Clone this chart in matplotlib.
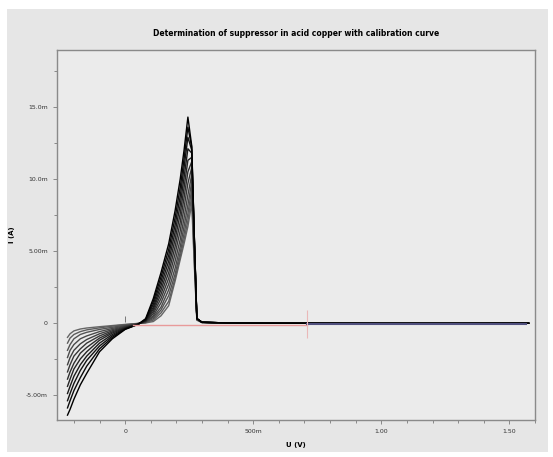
import matplotlib.pyplot as plt
from matplotlib.patches import Rectangle
from matplotlib.ticker import MultipleLocator

# potentials (V) for the cathodic part of each sweep
e_cat = [-0.225, -0.215, -0.2, -0.175, -0.15, -0.1, -0.05, 0.0, 0.05]
# potentials (V) for the stripping peak part
e_an = [0.08, 0.11, 0.14, 0.17, 0.195, 0.215, 0.23, 0.245, 0.26, 0.27, 0.28, 0.3]
# potentials (V) for the flat tail
e_flat = [0.4, 0.7, 1.0, 1.3, 1.575]

# currents in mA, one row per calibration step (largest peak first)
i_cat = [
    [-6.4, -6.0, -5.3, -4.3, -3.5, -2.0, -1.1, -0.45, -0.10],
    [-5.9, -5.4, -4.7, -3.8, -3.0, -1.8, -1.0, -0.42, -0.10],
    [-5.4, -4.9, -4.2, -3.3, -2.6, -1.6, -0.9, -0.40, -0.09],
    [-4.9, -4.4, -3.7, -2.9, -2.3, -1.4, -0.8, -0.37, -0.09],
    [-4.4, -3.9, -3.2, -2.5, -2.0, -1.2, -0.7, -0.34, -0.08],
    [-3.9, -3.4, -2.8, -2.1, -1.7, -1.05, -0.62, -0.31, -0.07],
    [-3.4, -2.9, -2.3, -1.8, -1.4, -0.9, -0.54, -0.27, -0.06],
    [-2.9, -2.4, -1.9, -1.45, -1.15, -0.75, -0.46, -0.23, -0.06],
    [-2.4, -1.9, -1.5, -1.1, -0.9, -0.6, -0.38, -0.19, -0.05],
    [-1.9, -1.5, -1.1, -0.8, -0.65, -0.45, -0.3, -0.15, -0.04],
    [-1.4, -1.05, -0.8, -0.6, -0.48, -0.34, -0.22, -0.12, -0.04],
    [-1.0, -0.75, -0.55, -0.42, -0.35, -0.26, -0.18, -0.10, -0.03],
]
i_an = [
    [0.3, 1.7, 3.5, 5.5, 7.8, 10.0, 12.0, 14.3, 12.3, 6.0, 0.3, 0.05],
    [0.25, 1.5, 3.2, 5.1, 7.3, 9.4, 11.4, 13.6, 12.2, 6.0, 0.3, 0.05],
    [0.2, 1.3, 2.9, 4.7, 6.8, 8.8, 10.8, 12.9, 12.0, 6.0, 0.3, 0.05],
    [0.18, 1.1, 2.6, 4.3, 6.3, 8.2, 10.1, 12.1, 11.8, 5.9, 0.3, 0.05],
    [0.15, 0.95, 2.3, 3.9, 5.8, 7.6, 9.4, 11.3, 11.5, 5.8, 0.3, 0.05],
    [0.12, 0.8, 2.0, 3.5, 5.3, 7.0, 8.7, 10.5, 11.2, 5.7, 0.3, 0.05],
    [0.1, 0.65, 1.7, 3.1, 4.8, 6.4, 8.0, 9.7, 10.8, 5.5, 0.3, 0.04],
    [0.08, 0.5, 1.4, 2.7, 4.3, 5.8, 7.3, 8.9, 10.3, 5.3, 0.3, 0.04],
    [0.06, 0.4, 1.1, 2.3, 3.8, 5.3, 6.7, 8.2, 9.8, 5.0, 0.25, 0.04],
    [0.04, 0.3, 0.9, 1.9, 3.4, 4.9, 6.2, 7.6, 9.3, 4.7, 0.25, 0.03],
    [0.02, 0.2, 0.7, 1.5, 3.1, 4.6, 5.8, 7.1, 8.8, 4.3, 0.2, 0.03],
    [0.0, 0.1, 0.5, 1.2, 2.9, 4.4, 5.5, 6.7, 8.3, 4.0, 0.2, 0.03],
]
i_flat = [0.0, -0.02, -0.03, -0.03, -0.02]

# last (running) measurement: red part, then blue part
red_e = [0.03, 0.71]
red_i = [-0.12, -0.12]
blue_e = [0.71, 1.565]
blue_i = [-0.05, -0.05]

y_ticks = [-5, 0, 5, 10, 15]
y_labels = ["-5.00m", "0", "5.00m", "10.0m", "15.0m"]
x_ticks = [0, 0.5, 1.0, 1.5]
x_labels = ["0", "500m", "1.00", "1.50"]

fig = plt.figure(figsize=(5.53, 4.57), dpi=100, facecolor="white")
fig.patches.append(Rectangle((7 / 553, 5 / 457), 541 / 553, 443 / 457,
                             transform=fig.transFigure, facecolor="#e6e6e6",
                             edgecolor="none", zorder=-10))
ax = fig.add_axes([57 / 553, 1 - 420 / 457, 478 / 553, 370 / 457])
ax.set_facecolor("#ebebeb")

n = len(i_cat)
colors = plt.cm.gray([0.4 * k / (n - 1) for k in range(n)])
for k in reversed(range(n)):
    xs = e_cat + e_an + e_flat
    ys = i_cat[k] + i_an[k] + i_flat
    ax.plot(xs, ys, color=colors[k], lw=1.0, zorder=2)

ax.plot(red_e, red_i, color="#e89a9a", lw=1.0, zorder=3)
ax.plot(blue_e, blue_i, color="#50507e", lw=1.5, zorder=3)
ax.plot([0.71], [-0.1], marker="|", markersize=20, color="#eab8b8", mew=0.8, zorder=4)
ax.plot([0.0], [0.25], marker="|", markersize=4, color="#666666", mew=0.6, zorder=4)

ax.set_xlim(-0.266, 1.60)
ax.set_ylim(-6.74, 18.96)
ax.set_xticks(x_ticks)
ax.set_xticklabels(x_labels)
ax.set_yticks(y_ticks)
ax.set_yticklabels(y_labels)
ax.xaxis.set_minor_locator(MultipleLocator(0.1))
ax.yaxis.set_minor_locator(MultipleLocator(2.5))
ax.tick_params(which="both", direction="out", colors="#7a7a7a", labelcolor="#333333",
               labelsize=4.5, width=0.6)
ax.tick_params(which="major", length=3)
ax.tick_params(which="minor", length=2)
for s in ax.spines.values():
    s.set_color("#8a8a8a")
    s.set_linewidth(1.0)

ax.set_xlabel("U (V)", fontsize=5, fontweight="bold", labelpad=6)
ax.set_ylabel("I (A)", fontsize=5, fontweight="bold", labelpad=8)
ax.set_title("Determination of suppressor in acid copper with calibration curve",
             fontsize=5.5, fontweight="bold", pad=10)

fig.savefig("out.png", dpi=100, facecolor=fig.get_facecolor())
